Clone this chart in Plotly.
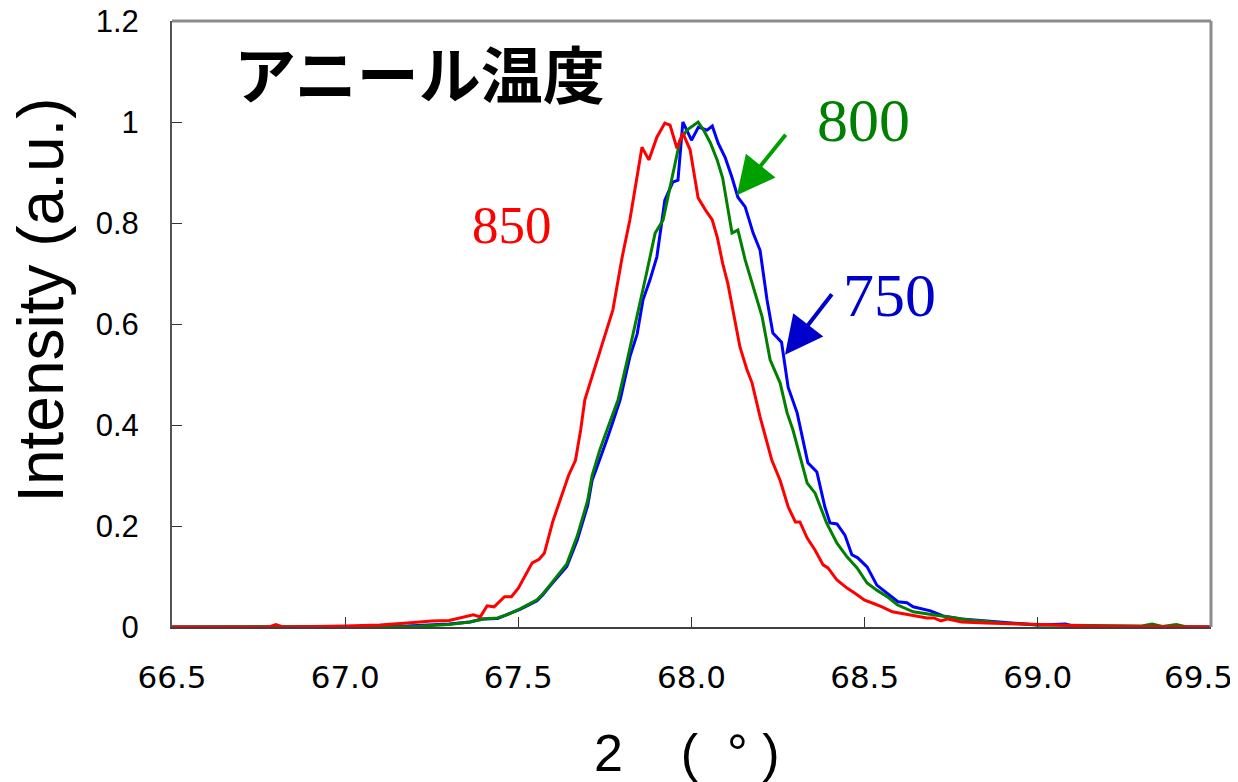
import plotly.graph_objects as go

# ---- data ----
x_850 = [66.5, 66.78, 66.8, 66.82, 67.0, 67.1, 67.18, 67.25, 67.3, 67.34, 67.37, 67.39, 67.41, 67.43,
         67.46, 67.48, 67.5, 67.54, 67.56, 67.575, 67.6, 67.62, 67.645, 67.665, 67.68, 67.692, 67.715,
         67.736, 67.755, 67.773, 67.8, 67.822, 67.84, 67.857, 67.877, 67.9, 67.923, 67.938, 67.958,
         67.975, 67.996, 68.019, 68.04, 68.06, 68.075, 68.09, 68.105, 68.12, 68.14, 68.16, 68.175,
         68.198, 68.215, 68.232, 68.256, 68.279, 68.3, 68.313, 68.334, 68.357, 68.38, 68.394, 68.42,
         68.449, 68.472, 68.5, 68.524, 68.55, 68.58, 68.63, 68.68, 68.7, 68.72, 68.74, 68.78, 68.85,
         68.95, 69.05, 69.15, 69.3, 69.5]
y_850 = [0, 0, 0.005, 0, 0.002, 0.004, 0.008, 0.012, 0.013, 0.02, 0.024, 0.02, 0.042, 0.04,
         0.06, 0.06, 0.077, 0.127, 0.134, 0.146, 0.21, 0.25, 0.30, 0.33, 0.39, 0.45, 0.5,
         0.55, 0.59, 0.628, 0.733, 0.806, 0.88, 0.95, 0.925, 0.97, 0.998, 0.994, 0.948,
         0.978, 0.945, 0.85, 0.826, 0.806, 0.77, 0.72, 0.68, 0.628, 0.554, 0.51, 0.483,
         0.416, 0.37, 0.33, 0.29, 0.238, 0.208, 0.208, 0.176, 0.152, 0.123, 0.117, 0.093,
         0.077, 0.067, 0.053, 0.047, 0.04, 0.03, 0.024, 0.018, 0.018, 0.012, 0.016, 0.01, 0.008,
         0.006, 0.004, 0.002, 0.001, 0]

x_800 = [66.5, 67.1, 67.2, 67.3, 67.36, 67.4, 67.44, 67.47, 67.505, 67.554, 67.571, 67.59, 67.615,
         67.64, 67.67, 67.687, 67.7, 67.713, 67.735, 67.756, 67.788, 67.815, 67.843, 67.87, 67.895,
         67.918, 67.944, 67.967, 67.987, 68.019, 68.035, 68.055, 68.074, 68.09, 68.117, 68.134,
         68.155, 68.178, 68.204, 68.227, 68.256, 68.276, 68.293, 68.334, 68.357, 68.39, 68.42,
         68.449, 68.478, 68.507, 68.535, 68.565, 68.594, 68.64, 68.7, 68.74, 68.8, 68.9, 69.0,
         69.3, 69.33, 69.36, 69.4, 69.43, 69.5]
y_800 = [0, 0, 0.001, 0.005, 0.01, 0.016, 0.018, 0.025, 0.036, 0.054, 0.066, 0.082, 0.104,
         0.125, 0.18, 0.22, 0.25, 0.3, 0.35, 0.39, 0.45, 0.53, 0.614, 0.7, 0.78,
         0.806, 0.89, 0.964, 0.984, 1.0, 0.984, 0.958, 0.925, 0.889, 0.78, 0.786,
         0.727, 0.673, 0.614, 0.529, 0.483, 0.424, 0.39, 0.285, 0.265, 0.206, 0.166,
         0.139, 0.117, 0.087, 0.073, 0.06, 0.044, 0.03, 0.024, 0.02, 0.014, 0.008, 0.004,
         0.002, 0.006, 0.001, 0.005, 0, 0]

x_750 = [66.5, 67.0, 67.18, 67.23, 67.3, 67.36, 67.395, 67.44, 67.47, 67.505, 67.554, 67.571, 67.59,
         67.615, 67.64, 67.67, 67.687, 67.7, 67.713, 67.735, 67.755, 67.77, 67.794, 67.822, 67.843,
         67.86, 67.88, 67.9, 67.91, 67.923, 67.946, 67.961, 67.975, 68.0, 68.02, 68.045, 68.06,
         68.077, 68.097, 68.117, 68.134, 68.155, 68.178, 68.198, 68.218, 68.235, 68.26, 68.279,
         68.305, 68.336, 68.362, 68.385, 68.4, 68.42, 68.443, 68.463, 68.48, 68.507, 68.535,
         68.565, 68.596, 68.622, 68.64, 68.69, 68.726, 68.78, 68.85, 68.92, 69.0, 69.08, 69.1,
         69.2, 69.5]
y_750 = [0, 0, 0.002, 0.004, 0.006, 0.01, 0.016, 0.017, 0.025, 0.035, 0.052, 0.064, 0.08,
         0.1, 0.12, 0.172, 0.21, 0.24, 0.29, 0.33, 0.37, 0.40, 0.45, 0.535, 0.58,
         0.648, 0.687, 0.733, 0.78, 0.845, 0.881, 0.885, 1.0, 0.964, 0.99, 0.984, 0.992,
         0.958, 0.93, 0.89, 0.851, 0.832, 0.78, 0.746, 0.648, 0.582, 0.564, 0.475,
         0.424, 0.325, 0.307, 0.238, 0.206, 0.204, 0.182, 0.143, 0.137, 0.119, 0.083,
         0.067, 0.05, 0.048, 0.04, 0.032, 0.022, 0.016, 0.012, 0.008, 0.004, 0.006, 0.002,
         0.001, 0]

x_ticks = [66.5, 67.0, 67.5, 68.0, 68.5, 69.0, 69.5]
x_tick_labels = ["66.5", "67.0", "67.5", "68.0", "68.5", "69.0", "69.5"]
y_ticks = [0, 0.2, 0.4, 0.6, 0.8, 1, 1.2]
y_tick_labels = ["0", "0.2", "0.4", "0.6", "0.8", "1", "1.2"]

fig = go.Figure()
fig.add_trace(go.Scatter(x=x_750, y=y_750, mode="lines", line=dict(color="#0000FF", width=3), name="750"))
fig.add_trace(go.Scatter(x=x_800, y=y_800, mode="lines", line=dict(color="#008000", width=3), name="800"))
fig.add_trace(go.Scatter(x=x_850, y=y_850, mode="lines", line=dict(color="#FF0000", width=3), name="850"))

sans = "Liberation Sans, Arial, sans-serif"
serif = "Liberation Serif, Times New Roman, serif"
xtickfont = dict(family="DejaVu Sans, sans-serif", size=31, color="black")

# the last x label is pulled inside the chart (as the original does), so it is drawn separately
shown_x_labels = x_tick_labels[:-1] + [""]

fig.update_layout(
    width=1238, height=782,
    margin=dict(l=164, r=35, t=13, b=163, autoexpand=False),
    paper_bgcolor="white", plot_bgcolor="white",
    showlegend=False,
    xaxis=dict(range=[66.5, 69.5], tickvals=x_ticks, ticktext=shown_x_labels,
               ticks="inside", ticklen=10, tickwidth=1, tickcolor="#333333",
               showline=True, linecolor="#404040", linewidth=2, showgrid=False, zeroline=False,
               automargin=False, ticklabeloverflow="allow",
               tickfont=xtickfont, ticklabelstandoff=22),
    yaxis=dict(range=[0, 1.2], tickvals=y_ticks, ticktext=y_tick_labels,
               ticks="inside", ticklen=10, tickwidth=1, tickcolor="#333333",
               showline=True, linecolor="#555555", linewidth=2, showgrid=False, zeroline=False,
               automargin=False, ticklabeloverflow="allow",
               tickfont=dict(family=sans, size=31, color="black"), ticklabelstandoff=25),
)

fig.add_annotation(text=x_tick_labels[-1], xref="paper", yref="paper", x=1.023, y=-0.0825,
                   xanchor="right", yanchor="middle", showarrow=False, font=xtickfont)

# grey top/right frame
fig.add_shape(type="line", xref="paper", yref="paper", x0=0, x1=1, y0=1, y1=1,
              line=dict(color="#8c8c8c", width=3))
fig.add_shape(type="line", xref="paper", yref="paper", x0=1, x1=1, y0=0, y1=1,
              line=dict(color="#8c8c8c", width=3))

# axis titles
fig.add_annotation(text="Intensity (a.u.)", xref="paper", yref="paper", x=-0.126, y=0.54,
                   xanchor="center", yanchor="middle", textangle=-90, showarrow=False,
                   font=dict(family=sans, size=64, color="black"))
fig.add_annotation(text="2\u00a0\u00a0\u00a0\u00a0(\u00a0\u00a0°\u00a0)", xref="paper", yref="paper",
                   x=0.4955, y=-0.156, xanchor="center", yanchor="top", showarrow=False,
                   font=dict(family=sans, size=52, color="black"))

# in-plot title
fig.add_annotation(text="<b>アニール温度</b>", x=67.216, y=1.1, xref="x", yref="y",
                   showarrow=False, font=dict(family="Noto Sans CJK JP", size=62, color="black"))

# labels
fig.add_annotation(text="850", x=67.482, y=0.796, showarrow=False,
                   font=dict(family=serif, size=53, color="#FF0000"))
fig.add_annotation(text="800", x=68.498, y=1.004, showarrow=False,
                   font=dict(family=serif, size=62, color="#008000"))
fig.add_annotation(text="750", x=68.573, y=0.657, showarrow=False,
                   font=dict(family=serif, size=62, color="#0000CC"))

# arrows
fig.add_annotation(text="", x=68.131, y=0.855, ax=50, ay=-62, showarrow=True,
                   arrowhead=2, arrowsize=1.9, arrowwidth=4, arrowcolor="#00A000")
fig.add_annotation(text="", x=68.27, y=0.539, ax=48, ay=-62, showarrow=True,
                   arrowhead=2, arrowsize=1.9, arrowwidth=4, arrowcolor="#0000CC")

fig.write_html("out.html")
